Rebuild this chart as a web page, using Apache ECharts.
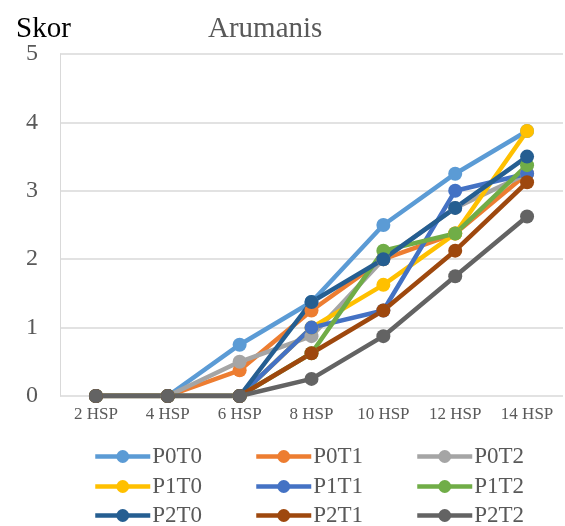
<!DOCTYPE html>
<html>
<head>
<meta charset="utf-8">
<script src="https://cdn.jsdelivr.net/npm/echarts@6/dist/echarts.min.js"></script>
<style>
  html, body { margin: 0; padding: 0; background: #fff; }
  #chart { width: 565px; height: 526px; }
</style>
</head>
<body>
<div id="chart"></div>
<script>
// categories (days after planting)
const days = ['2 HSP', '4 HSP', '6 HSP', '8 HSP', '10 HSP', '12 HSP', '14 HSP']

// scores per treatment
const P0T0 = [0, 0, 0.75, 1.375, 2.5, 3.25, 3.875]
const P0T1 = [0, 0, 0.375, 1.25, 2.0, 2.375, 3.25]
const P0T2 = [0, 0, 0.5, 0.875, 2.0, 2.75, 3.25]
const P1T0 = [0, 0, 0, 1.0, 1.625, 2.375, 3.875]
const P1T1 = [0, 0, 0, 1.0, 1.25, 3.0, 3.25]
const P1T2 = [0, 0, 0, 0.625, 2.125, 2.375, 3.375]
const P2T0 = [0, 0, 0, 1.375, 2.0, 2.75, 3.5]
const P2T1 = [0, 0, 0, 0.625, 1.25, 2.125, 3.125]
const P2T2 = [0, 0, 0, 0.25, 0.875, 1.75, 2.625]

const names = ['P0T0', 'P0T1', 'P0T2', 'P1T0', 'P1T1', 'P1T2', 'P2T0', 'P2T1', 'P2T2']
const values = [P0T0, P0T1, P0T2, P1T0, P1T1, P1T2, P2T0, P2T1, P2T2]
const colors = ['#5B9BD5', '#ED7D31', '#A5A5A5', '#FFC000', '#4472C4', '#70AD47', '#255E91', '#9E480E', '#636363']

const font = 'Liberation Serif'
const chart = echarts.init(document.getElementById('chart'))

// one legend per item, laid out in a 3x3 grid
const colLeft = [93, 254, 415]
const rowTop = [445, 475, 504]
const legends = names.map((n, i) => ({
  left: colLeft[i % 3],
  top: rowTop[Math.floor(i / 3)],
  padding: 0,
  itemWidth: 55,
  itemHeight: 16,
  data: [n],
  lineStyle: { width: 4.5 },
  textStyle: { fontFamily: font, fontSize: 23, color: '#595959', padding: [0, 0, 0, -3] },
}))

const option = {
  color: colors,
  animation: false,
  title: [
    {
      text: 'Arumanis',
      left: 203,
      top: 10,
      textStyle: { fontFamily: font, fontSize: 29, fontWeight: 'normal', color: '#595959' },
    },
    {
      text: 'Skor',
      left: 11,
      top: 10,
      textStyle: { fontFamily: font, fontSize: 29, fontWeight: 'normal', color: '#000' },
    },
  ],
  legend: legends,
  grid: { left: 60, right: 2, top: 54, bottom: 130 },
  xAxis: {
    type: 'category',
    data: days,
    boundaryGap: true,
    axisLine: { show: false },
    axisTick: { show: false },
    axisLabel: { fontFamily: font, fontSize: 17, color: '#595959', margin: 10 },
  },
  yAxis: {
    type: 'value',
    min: 0,
    max: 5,
    interval: 1,
    axisLine: { show: true, lineStyle: { color: '#d9d9d9', width: 1 } },
    axisTick: { show: false },
    axisLabel: { fontFamily: font, fontSize: 24, color: '#595959', margin: 22 },
    splitLine: { lineStyle: { color: '#d9d9d9', width: 1.5 } },
  },
  series: names.map((n, i) => ({
    name: n,
    type: 'line',
    data: values[i],
    symbol: 'circle',
    symbolSize: 14,
    lineStyle: { width: 4.5 },
  })),
}

chart.setOption(option)
</script>
</body>
</html>
